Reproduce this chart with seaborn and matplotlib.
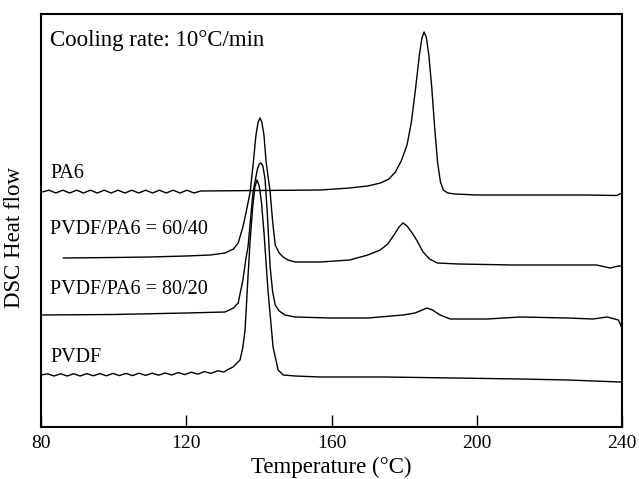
import numpy as np
import pandas as pd
import matplotlib
matplotlib.use("Agg")
import matplotlib.pyplot as plt
import seaborn as sns

# ---- data (temperature in deg C, heat flow in arbitrary units) ----
pa6_T = [80.3, 82.2, 84.1, 86.0, 87.9, 89.8, 91.7, 93.6, 95.5, 97.4, 99.3, 101.2,
         103.1, 105.0, 106.9, 108.8, 110.7, 112.6, 114.5, 116.4, 118.3, 120.2, 122.1, 124.0,
         140.0, 157.0, 165.0, 170.0, 173.5, 175.8, 177.6, 179.2, 180.8, 182.0, 183.2, 184.2,
         184.9, 185.5, 186.1, 186.8, 187.6, 188.4, 189.2, 190.0, 190.8, 192.0, 194.0,
         200.0, 215.0, 230.0, 238.5, 240.0]
pa6_V = [235, 236.8, 234.0, 236.8, 234.0, 236.8, 234.0, 236.8, 234.0, 236.8, 234.0, 236.8,
         234.0, 236.8, 234.0, 236.8, 234.0, 236.8, 234.0, 236.8, 234.0, 236.8, 234.0, 236.0,
         236.5, 237, 239, 241, 244, 248, 255, 266, 282, 305, 340, 372,
         389, 395, 390, 372, 340, 300, 265, 245, 237, 234, 233,
         232, 232, 232, 231.5, 234]

b6040_T = [86.1, 100.0, 110.0, 120.0, 126.6, 130.7, 133.0, 134.3, 135.6, 136.5, 137.6, 138.4,
           139.2, 139.8, 140.3, 140.8, 141.4, 142.0, 143.1, 143.8, 144.5, 145.6, 146.7, 148.0,
           150.0, 157.0, 165.0, 170.0, 173.4, 175.5, 177.2, 178.6, 179.7, 180.8, 182.2, 183.6,
           185.2, 187.0, 189.1, 195.0, 210.0, 225.0, 233.0, 236.7, 239.0, 240.0]
b6040_V = [169, 169.5, 170, 171, 172, 174, 178, 184, 200, 215, 235, 262,
           292, 305, 309, 305, 292, 265, 235, 205, 182, 174, 170, 167,
           165, 165, 167, 172, 177, 183, 192, 200, 204, 201, 194, 186,
           175, 168, 164, 163, 162, 162, 162, 159, 161, 161]

b8020_T = [80.0, 100.0, 120.0, 130.7, 133.0, 134.3, 135.6, 136.5, 137.0, 138.4, 139.6,
           140.1, 140.6, 141.1, 141.7, 142.3, 143.1, 143.8, 144.5, 145.6, 147.2, 150.0,
           160.0, 170.0, 179.7, 183.0, 185.0, 186.3, 187.8, 189.9, 192.7, 202.9, 212.0,
           225.0, 232.0, 235.9, 239.0, 240.0]
b8020_V = [112, 112.5, 114, 115, 119, 124, 147, 170, 180, 235, 258,
           263, 264, 261, 248, 215, 160, 135, 122, 116, 112, 110,
           109, 109, 112, 114, 117, 119, 117, 112, 108, 108, 110,
           109, 108, 110, 107, 99]

pvdf_T = [80.0, 81.8, 83.6, 85.4, 87.2, 89.0, 90.8, 92.6, 94.4, 96.2, 98.0, 99.8,
          101.6, 103.4, 105.2, 107.0, 108.8, 110.6, 112.4, 114.2, 116.0, 117.8, 119.6,
          121.4, 123.2, 125.0, 126.8, 128.6, 130.4, 131.2, 132.9, 134.8, 135.6, 136.2,
          137.0, 137.6, 138.3, 138.9, 139.5, 140.1, 140.7, 141.4, 142.5, 143.9, 145.3,
          146.7, 150.0, 156.9, 175.0, 193.5, 212.0, 225.0, 239.5, 240.0]
pvdf_V = [52, 53.2, 51.0, 53.2, 51.0, 53.2, 51.0, 53.4, 51.2, 53.4, 51.2, 53.6,
          51.4, 53.6, 51.4, 53.8, 51.6, 53.8, 51.8, 54.0, 52.0, 54.4, 52.4, 54.8,
          52.8, 55.4, 53.6, 56.2, 55.0, 57, 60, 67, 80, 97,
          150, 187, 220, 240, 247, 241, 225, 195, 137, 80, 57,
          52, 51, 50, 50, 49, 48, 47, 45, 45]

series_names = ["PA6", "PVDF/PA6 = 60/40", "PVDF/PA6 = 80/20", "PVDF"]
series_T = [pa6_T, b6040_T, b8020_T, pvdf_T]
series_V = [pa6_V, b6040_V, b8020_V, pvdf_V]

label_T = [82.5, 82.5, 82.5, 82.5]
label_V = [254, 197, 137, 70]

x_ticks = [80, 120, 160, 200, 240]
x_tick_labels = ["80", "120", "160", "200", "240"]

# ---- figure ----
sns.set_theme(style="white")
plt.rcParams["font.family"] = ["Liberation Serif", "DejaVu Serif"]

fig = plt.figure(figsize=(6.39, 4.79), dpi=100)
ax = fig.add_axes([41 / 639, 1 - 427 / 479, (622 - 41) / 639, (427 - 14) / 479])

frames = []
for name, T, V in zip(series_names, series_T, series_V):
    frames.append(pd.DataFrame({"T": T, "V": V, "series": name}))
df = pd.concat(frames, ignore_index=True)

for name in series_names:
    sub = df[df["series"] == name]
    sns.lineplot(data=sub, x="T", y="V", ax=ax, color="black", linewidth=1.0,
                 sort=False, estimator=None, legend=False)

for name, tx, ty in zip(series_names, label_T, label_V):
    ax.text(tx, ty, name, fontsize=14.5, color="black", va="center", ha="left")

ax.text(0.015, 0.937, "Cooling rate: 10°C/min", transform=ax.transAxes,
        fontsize=16.5, color="black", va="center", ha="left")

ax.set_xlim(80, 240)
ax.set_ylim(0, 413)
ax.set_xticks(x_ticks)
ax.set_xticklabels(x_tick_labels)
ax.set_yticks([])
ax.tick_params(axis="x", direction="in", length=9, width=1, colors="black",
               labelsize=14, pad=6, bottom=True, top=False)

ax.set_xlabel("Temperature (°C)", fontsize=16.5, color="black", labelpad=3)
ax.set_ylabel("DSC Heat flow", fontsize=16.5, color="black")
ax.yaxis.set_label_coords(-0.028, 0.458)

for sp in ax.spines.values():
    sp.set_visible(True)
    sp.set_color("black")
    sp.set_linewidth(1.5)

fig.savefig("out.png", dpi=100, facecolor="white")
